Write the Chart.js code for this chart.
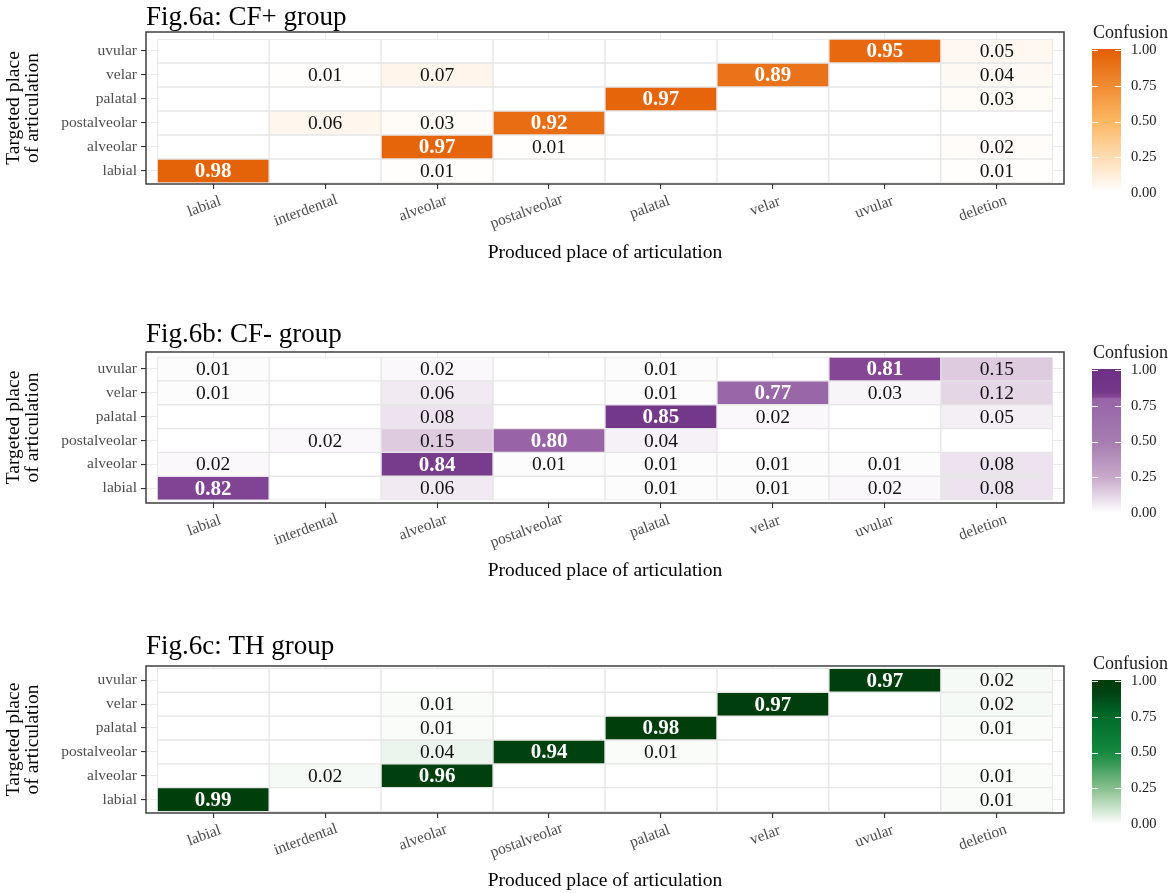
<!DOCTYPE html>
<html>
<head>
<meta charset="utf-8">
<script src="https://cdn.jsdelivr.net/npm/chart.js@4.4.1/dist/chart.umd.min.js"></script>
<style>
  html, body { margin: 0; padding: 0; background: #ffffff; }
  body { width: 1176px; height: 893px; position: relative; overflow: hidden; }
  canvas { position: absolute; left: 0; }
</style>
</head>
<body>
<canvas id="figA"></canvas>
<canvas id="figB"></canvas>
<canvas id="figC"></canvas>
<script>
// targeted place, listed bottom to top
const targetedPlaces = ['labial', 'alveolar', 'postalveolar', 'palatal', 'velar', 'uvular'];
const producedPlaces = ['labial', 'interdental', 'alveolar', 'postalveolar', 'palatal', 'velar', 'uvular', 'deletion'];
const panelTitles = ['Fig.6a: CF+ group', 'Fig.6b: CF- group', 'Fig.6c: TH group'];
const legendBreaks = [0, 0.25, 0.5, 0.75, 1];

// one row per targeted place (same order as targetedPlaces), one column per produced place; null = empty cell
const cfPlus = [
  [0.98, null, 0.01, null, null, null, null, 0.01],
  [null, null, 0.97, 0.01, null, null, null, 0.02],
  [null, 0.06, 0.03, 0.92, null, null, null, null],
  [null, null, null, null, 0.97, null, null, 0.03],
  [null, 0.01, 0.07, null, null, 0.89, null, 0.04],
  [null, null, null, null, null, null, 0.95, 0.05]
];
const cfMinus = [
  [0.82, null, 0.06, null, 0.01, 0.01, 0.02, 0.08],
  [0.02, null, 0.84, 0.01, 0.01, 0.01, 0.01, 0.08],
  [null, 0.02, 0.15, 0.80, 0.04, null, null, null],
  [null, null, 0.08, null, 0.85, 0.02, null, 0.05],
  [0.01, null, 0.06, null, 0.01, 0.77, 0.03, 0.12],
  [0.01, null, 0.02, null, 0.01, null, 0.81, 0.15]
];
const thGroup = [
  [0.99, null, null, null, null, null, null, 0.01],
  [null, 0.02, 0.96, null, null, null, null, 0.01],
  [null, null, 0.04, 0.94, 0.01, null, null, null],
  [null, null, 0.01, null, 0.98, null, null, 0.01],
  [null, null, 0.01, null, null, 0.97, null, 0.02],
  [null, null, null, null, null, null, 0.97, 0.02]
];

// colour ramps [stop, colour]
const orangeRamp = [[0, '#ffffff'], [0.25, '#fedcb3'], [0.5, '#fdb863'], [1, '#e45f04']];
const purpleRamp = [[0, '#ffffff'], [0.25, '#c8a9cb'], [0.5, '#a57cb0'], [0.8, '#9864a7'], [0.81, '#864696'], [0.85, '#733889'], [1, '#6e3186']];
const greenRamp = [[0, '#ffffff'], [0.25, '#86bf8c'], [0.5, '#14893f'], [0.75, '#006b2b'], [0.92, '#004212'], [1, '#003d0a']];

const FONT = '"Liberation Serif", "Times New Roman", serif';
Chart.defaults.font.family = FONT;
Chart.defaults.color = '#4d4d4d';

function hexRgb(h) {
  return [1, 3, 5].map(i => parseInt(h.substr(i, 2), 16));
}

function rampColor(ramp, v) {
  if (v == null) return '#ffffff';
  for (let i = 1; i < ramp.length; i++) {
    if (v <= ramp[i][0]) {
      const a = hexRgb(ramp[i - 1][1]), b = hexRgb(ramp[i][1]);
      const t = (v - ramp[i - 1][0]) / (ramp[i][0] - ramp[i - 1][0]);
      const c = a.map((x, k) => Math.round(x + (b[k] - x) * t));
      return 'rgb(' + c.join(',') + ')';
    }
  }
  return ramp[ramp.length - 1][1];
}

// page layout of each panel (page pixels)
const panels = [
  { canvas: 'figA', title: panelTitles[0], values: cfPlus, ramp: orangeRamp,
    canvasTop: 0, canvasHeight: 290, chartTop: 32, chartBottom: 184, titleBase: 25, xTitleY: 253,
    legendTop: 49, yMin: -0.54, yMax: 5.79 },
  { canvas: 'figB', title: panelTitles[1], values: cfMinus, ramp: purpleRamp,
    canvasTop: 296, canvasHeight: 300, chartTop: 352, chartBottom: 503, titleBase: 342, xTitleY: 571,
    legendTop: 369, yMin: -0.62, yMax: 5.71 },
  { canvas: 'figC', title: panelTitles[2], values: thGroup, ramp: greenRamp,
    canvasTop: 608, canvasHeight: 285, chartTop: 666, chartBottom: 813, titleBase: 654, xTitleY: 881,
    legendTop: 680, yMin: -0.56, yMax: 5.6 }
];

const PLOT_LEFT = 146, PLOT_RIGHT = 1064;

function overlay(p) {
  return {
    id: 'overlay_' + p.canvas,
    afterDatasetsDraw(chart) {
      const ctx = chart.ctx;
      const meta = chart.getDatasetMeta(0);
      const data = chart.data.datasets[0].data;
      ctx.save();
      ctx.textAlign = 'center';
      ctx.textBaseline = 'middle';
      meta.data.forEach((bar, i) => {
        const v = data[i].v;
        if (v == null) return;
        const c = bar.getCenterPoint();
        const strong = v >= 0.5;
        ctx.font = (strong ? 'bold 21px ' : '19.5px ') + FONT;
        ctx.fillStyle = strong ? '#ffffff' : '#111111';
        ctx.fillText(v.toFixed(2), c.x, c.y + 1);
      });
      ctx.restore();
    },
    afterDraw(chart) {
      const ctx = chart.ctx;
      const area = chart.chartArea;
      const off = p.canvasTop;
      ctx.save();

      // panel title
      ctx.font = '27px ' + FONT;
      ctx.fillStyle = '#000000';
      ctx.textAlign = 'left';
      ctx.textBaseline = 'alphabetic';
      ctx.fillText(p.title, PLOT_LEFT, p.titleBase - off);

      // panel border
      ctx.strokeStyle = '#333333';
      ctx.lineWidth = 1.4;
      ctx.strokeRect(area.left, area.top, area.right - area.left, area.bottom - area.top);

      // rotated x tick labels
      const xs = chart.scales.x;
      ctx.font = '15.5px ' + FONT;
      ctx.fillStyle = '#4d4d4d';
      ctx.textBaseline = 'middle';
      xs.ticks.forEach(t => {
        const label = producedPlaces[t.value];
        const w = ctx.measureText(label).width;
        ctx.save();
        ctx.translate(xs.getPixelForValue(t.value), area.bottom + 12);
        ctx.rotate(-20 * Math.PI / 180);
        ctx.fillText(label, -0.85 * w, 7);
        ctx.restore();
      });

      // colour bar legend
      const x0 = 1092, bw = 29, top = p.legendTop - off, bh = 145;
      const yOf = v => top + 1 + (1 - v) * 143;
      const g = ctx.createLinearGradient(0, yOf(0), 0, yOf(1));
      p.ramp.forEach(([s, c]) => g.addColorStop(s, c));
      ctx.fillStyle = g;
      ctx.fillRect(x0, top, bw, bh);
      ctx.strokeStyle = '#ffffff';
      ctx.lineWidth = 1;
      legendBreaks.forEach(v => {
        const y = Math.round(yOf(v)) + 0.5;
        ctx.beginPath();
        ctx.moveTo(x0, y); ctx.lineTo(x0 + 6, y);
        ctx.moveTo(x0 + bw - 6, y); ctx.lineTo(x0 + bw, y);
        ctx.stroke();
      });
      ctx.fillStyle = '#1a1a1a';
      ctx.font = '14.5px ' + FONT;
      ctx.textAlign = 'left';
      ctx.textBaseline = 'middle';
      legendBreaks.forEach(v => ctx.fillText(v.toFixed(2), 1131, yOf(v)));
      ctx.font = '18px ' + FONT;
      ctx.textBaseline = 'alphabetic';
      ctx.fillText('Confusion', 1093, top - 11);

      ctx.restore();
    }
  };
}

panels.forEach(p => {
  const el = document.getElementById(p.canvas);
  el.width = 1176;
  el.height = p.canvasHeight;
  el.style.top = p.canvasTop + 'px';

  const cells = [];
  targetedPlaces.forEach((_, r) => {
    producedPlaces.forEach((_, c) => {
      cells.push({ x: [c - 0.5, c + 0.5], y: r, v: p.values[r][c] });
    });
  });

  const xAxisBottom = p.xTitleY + 11.7;
  const gridStyle = { offset: false, color: '#ebebeb', lineWidth: 1.1, tickColor: '#333333', tickLength: 5, tickWidth: 1.1 };

  new Chart(el, {
    type: 'bar',
    data: {
      datasets: [{
        data: cells,
        backgroundColor: ctx => rampColor(p.ramp, ctx.raw ? ctx.raw.v : null),
        borderColor: '#e6e6e6',
        borderWidth: 1,
        borderSkipped: false,
        barPercentage: 1,
        categoryPercentage: 1
      }]
    },
    options: {
      indexAxis: 'y',
      responsive: false,
      animation: false,
      events: [],
      layout: {
        padding: {
          left: 0,
          right: 1176 - PLOT_RIGHT,
          top: p.chartTop - p.canvasTop,
          bottom: p.canvasTop + p.canvasHeight - xAxisBottom
        }
      },
      plugins: {
        legend: { display: false },
        title: { display: false },
        tooltip: { enabled: false }
      },
      scales: {
        x: {
          type: 'linear',
          offset: false,
          min: -0.6,
          max: producedPlaces.length - 0.4,
          afterBuildTicks: s => { s.ticks = producedPlaces.map((_, i) => ({ value: i })); },
          afterFit: s => { s.height = xAxisBottom - p.chartBottom; },
          ticks: { display: false },
          grid: gridStyle,
          border: { display: false },
          title: {
            display: true,
            text: 'Produced place of articulation',
            color: '#000000',
            font: { size: 19.5 },
            padding: { top: 0, bottom: 0 }
          }
        },
        y: {
          type: 'linear',
          offset: false,
          min: p.yMin,
          max: p.yMax,
          afterBuildTicks: s => { s.ticks = targetedPlaces.map((_, i) => ({ value: i })); },
          afterFit: s => { s.width = PLOT_LEFT; },
          ticks: {
            autoSkip: false,
            padding: 4,
            color: '#4d4d4d',
            font: { size: 15.5 },
            callback: v => targetedPlaces[v]
          },
          grid: gridStyle,
          border: { display: false },
          title: {
            display: true,
            text: ['Targeted place', 'of articulation'],
            color: '#000000',
            font: { size: 19.5, lineHeight: 1.0 },
            padding: { top: 4, bottom: 0 }
          }
        }
      }
    },
    plugins: [overlay(p)]
  });
});
</script>
</body>
</html>
